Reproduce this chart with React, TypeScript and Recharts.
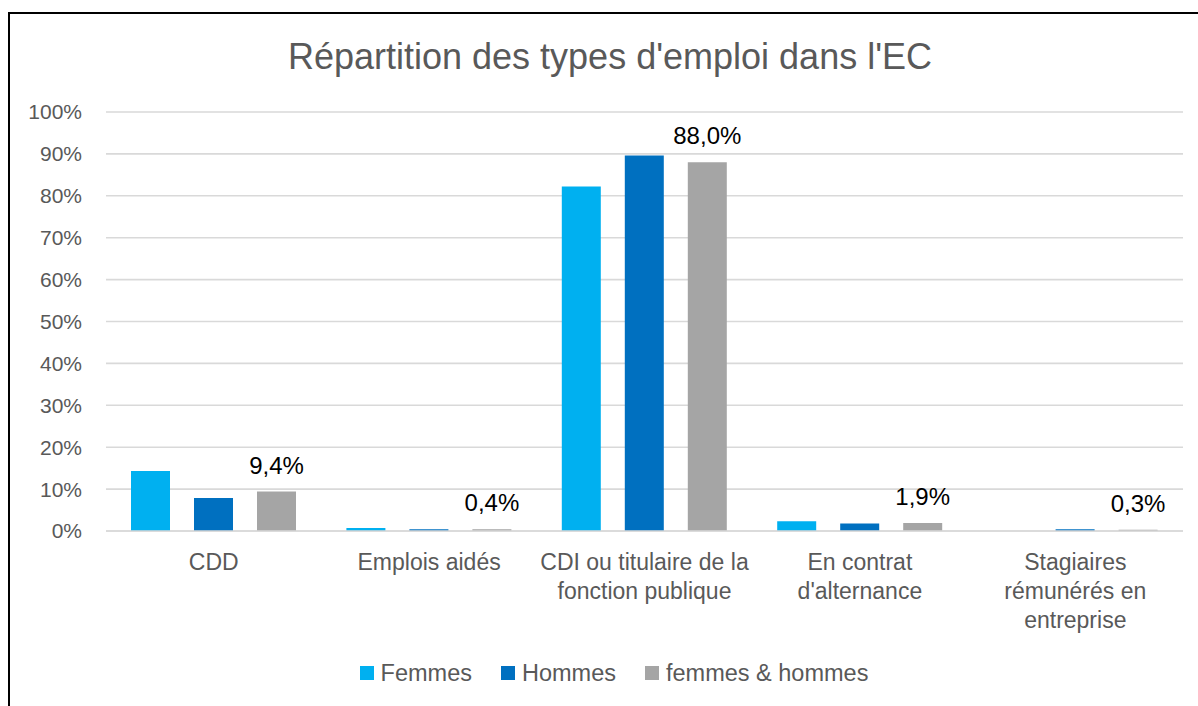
import React from "react";
import { BarChart, Bar, XAxis, YAxis, CartesianGrid, LabelList } from "recharts";

const title = "Répartition des types d'emploi dans l'EC";
const categories = [
  "CDD",
  "Emplois aidés",
  "CDI ou titulaire de la\nfonction publique",
  "En contrat\nd'alternance",
  "Stagiaires\nrémunérés en\nentreprise",
];
const femmes = [14.3, 0.7, 82.2, 2.3, 0];
const hommes = [7.9, 0.4, 89.6, 1.8, 0.4];
const ensemble = [9.4, 0.4, 88.0, 1.9, 0.3];
const seriesNames = ["Femmes", "Hommes", "femmes & hommes"];
const seriesColors = ["#00B0F0", "#0070C0", "#A5A5A5"];
const yTicks = [0, 10, 20, 30, 40, 50, 60, 70, 80, 90, 100];

const data = categories.map((c, i) => ({
  cat: c,
  femmes: femmes[i],
  hommes: hommes[i],
  ensemble: ensemble[i],
}));

const FONT = "'Liberation Sans', Arial, sans-serif";
const TEXT = "#595959";

const CatTick = (props: any) => {
  const { x, y, payload } = props;
  const lines = String(payload.value).split("\n");
  return (
    <text x={x} y={y} textAnchor="middle" fill={TEXT} fontSize={23} fontFamily={FONT}>
      {lines.map((l, i) => (
        <tspan key={i} x={x} dy={i === 0 ? 39 : 29}>
          {l}
        </tspan>
      ))}
    </text>
  );
};

const fmt = (v: any) => `${Number(v).toFixed(1).replace(".", ",")}%`;

export default function App() {
  return (
    <div style={{ position: "fixed", left: 0, top: 0, width: 1198, height: 706, background: "#fff", overflow: "hidden" }}>
      <div
        style={{
          position: "absolute",
          left: 8,
          top: 12,
          width: 1240,
          height: 760,
          border: "2px solid #000",
        }}
      />
      <div
        style={{
          position: "absolute",
          left: 10,
          width: 1200,
          top: 35,
          textAlign: "center",
          fontFamily: FONT,
          fontSize: 36,
          color: TEXT,
          lineHeight: "44px",
        }}
      >
        {title}
      </div>
      <div style={{ position: "absolute", left: 0, top: 0 }}>
        <BarChart
          width={1198}
          height={706}
          data={data}
          margin={{ top: 112, right: 15, left: 0, bottom: 75 }}
          barSize={39}
          barGap={24}
        >
          <CartesianGrid vertical={false} stroke="#D9D9D9" strokeWidth={1.6} />
          <XAxis
            dataKey="cat"
            tick={<CatTick />}
            tickLine={false}
            tickSize={0}
            tickMargin={0}
            axisLine={{ stroke: "#D9D9D9", strokeWidth: 1.6 }}
            height={100}
            interval={0}
          />
          <YAxis
            domain={[0, 100]}
            ticks={yTicks}
            tickFormatter={(v: number) => `${v}%`}
            tickLine={false}
            axisLine={false}
            tickSize={0}
            tickMargin={24}
            width={106}
            tick={{ fill: TEXT, fontSize: 21, fontFamily: FONT }}
            interval={0}
          />
          <Bar dataKey="femmes" fill={seriesColors[0]} isAnimationActive={false} />
          <Bar dataKey="hommes" fill={seriesColors[1]} isAnimationActive={false} />
          <Bar dataKey="ensemble" fill={seriesColors[2]} isAnimationActive={false}>
            <LabelList
              dataKey="ensemble"
              position="top"
              offset={18}
              formatter={fmt}
              style={{ fill: "#000", fontSize: 24, fontFamily: FONT }}
            />
          </Bar>
        </BarChart>
      </div>
      <div
        style={{
          position: "absolute",
          left: 0,
          width: 1228,
          top: 659,
          display: "flex",
          justifyContent: "center",
          fontFamily: FONT,
          fontSize: 23.5,
          color: TEXT,
          lineHeight: "28px",
        }}
      >
        {seriesNames.map((n, i) => (
          <div key={n} style={{ display: "flex", alignItems: "center", marginRight: i < seriesNames.length - 1 ? 29 : 0 }}>
            <span style={{ display: "inline-block", width: 14, height: 14, background: seriesColors[i], marginRight: 7 }} />
            <span>{n}</span>
          </div>
        ))}
      </div>
    </div>
  );
}
